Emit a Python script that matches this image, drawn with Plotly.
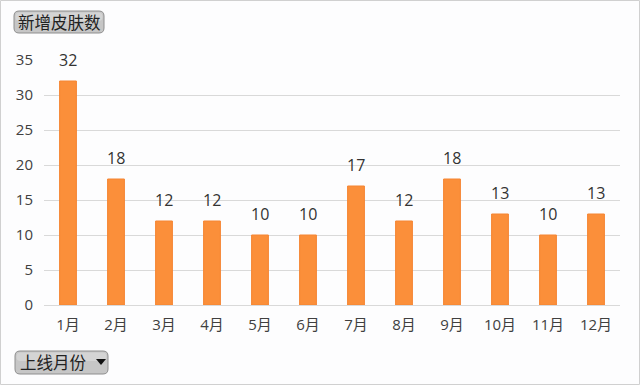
import plotly.graph_objects as go

months = ["1月", "2月", "3月", "4月", "5月", "6月", "7月", "8月", "9月", "10月", "11月", "12月"]
skins = [32, 18, 12, 12, 10, 10, 17, 12, 18, 13, 10, 13]
y_ticks = [0, 5, 10, 15, 20, 25, 30, 35]

W, H = 640, 385
L, R, T, B = 44, 20, 60, 80
PW, PH = W - L - R, H - T - B

def px(x):
    return (x - L) / PW

def py(y):
    return (H - B - y) / PH

def rrect(x0, y0, x1, y1, r=5):
    return (f"M {px(x0+r)},{py(y0)} L {px(x1-r)},{py(y0)} Q {px(x1)},{py(y0)} {px(x1)},{py(y0+r)} "
            f"L {px(x1)},{py(y1-r)} Q {px(x1)},{py(y1)} {px(x1-r)},{py(y1)} "
            f"L {px(x0+r)},{py(y1)} Q {px(x0)},{py(y1)} {px(x0)},{py(y1-r)} "
            f"L {px(x0)},{py(y0+r)} Q {px(x0)},{py(y0)} {px(x0+r)},{py(y0)} Z")

font = "Open Sans, Noto Sans CJK SC, sans-serif"
cjk = "Noto Sans CJK SC, sans-serif"

fig = go.Figure(go.Bar(
    x=months, y=skins,
    marker=dict(color="#FB8F3A", line=dict(color="#F58532", width=1)),
    width=0.35, hoverinfo="skip",
))

shapes = [
    dict(type="rect", xref="paper", yref="paper", x0=px(0.5), x1=px(W - 0.5), y0=py(0.5), y1=py(H - 0.5),
         line=dict(color="#D0D0D0", width=1), fillcolor="rgba(0,0,0,0)", layer="below"),
    dict(type="path", xref="paper", yref="paper", path=rrect(14, 11, 104, 33),
         fillcolor="#C6C6C6", line=dict(color="#8E8E8E", width=1)),
    dict(type="path", xref="paper", yref="paper", path=rrect(15.5, 12.5, 102.5, 21, 4),
         fillcolor="rgba(255,255,255,0.25)", line=dict(width=0)),
    dict(type="path", xref="paper", yref="paper", path=rrect(15, 351, 108, 374),
         fillcolor="#C6C6C6", line=dict(color="#8E8E8E", width=1)),
    dict(type="path", xref="paper", yref="paper", path=rrect(16.5, 352.5, 106.5, 361, 4),
         fillcolor="rgba(255,255,255,0.25)", line=dict(width=0)),
    dict(type="path", xref="paper", yref="paper",
         path=f"M {px(96)},{py(359)} L {px(106)},{py(359)} L {px(101)},{py(365)} Z",
         fillcolor="#111111", line=dict(width=0)),
]

annotations = [
    dict(text="新增皮肤数", xref="paper", yref="paper", x=px(16), y=py(22), xanchor="left", yanchor="middle",
         showarrow=False, font=dict(size=16.5, color="#222222", family=cjk)),
    dict(text="上线月份", xref="paper", yref="paper", x=px(18), y=py(362), xanchor="left", yanchor="middle",
         showarrow=False, font=dict(size=16.5, color="#222222", family=cjk)),
]
for m, v in zip(months, skins):
    annotations.append(dict(x=m, y=v, text=str(v), xref="x", yref="y", showarrow=False,
                            yanchor="middle", yshift=21,
                            font=dict(size=16, color="#333333", family=font)))

fig.update_layout(
    width=W, height=H,
    margin=dict(l=L, r=R, t=T, b=B),
    paper_bgcolor="#FDFDFE", plot_bgcolor="#FDFDFE",
    showlegend=False,
    shapes=shapes, annotations=annotations,
    font=dict(family=font, size=15, color="#404040"),
)
fig.update_xaxes(showgrid=False, showline=True, linecolor="#D9D9D9", linewidth=1, ticks="",
                 tickfont=dict(size=15, color="#404040"), ticklabelstandoff=6)
fig.update_yaxes(range=[0, 35], tickvals=y_ticks, showgrid=True, gridcolor="#D9D9D9", gridwidth=1,
                 zeroline=False, showline=False, tickfont=dict(size=15, color="#404040"), ticklabelstandoff=10)

fig.write_html("out.html", config={"displayModeBar": False},
               post_script="document.body.style.margin='0';document.body.style.padding='0';")
